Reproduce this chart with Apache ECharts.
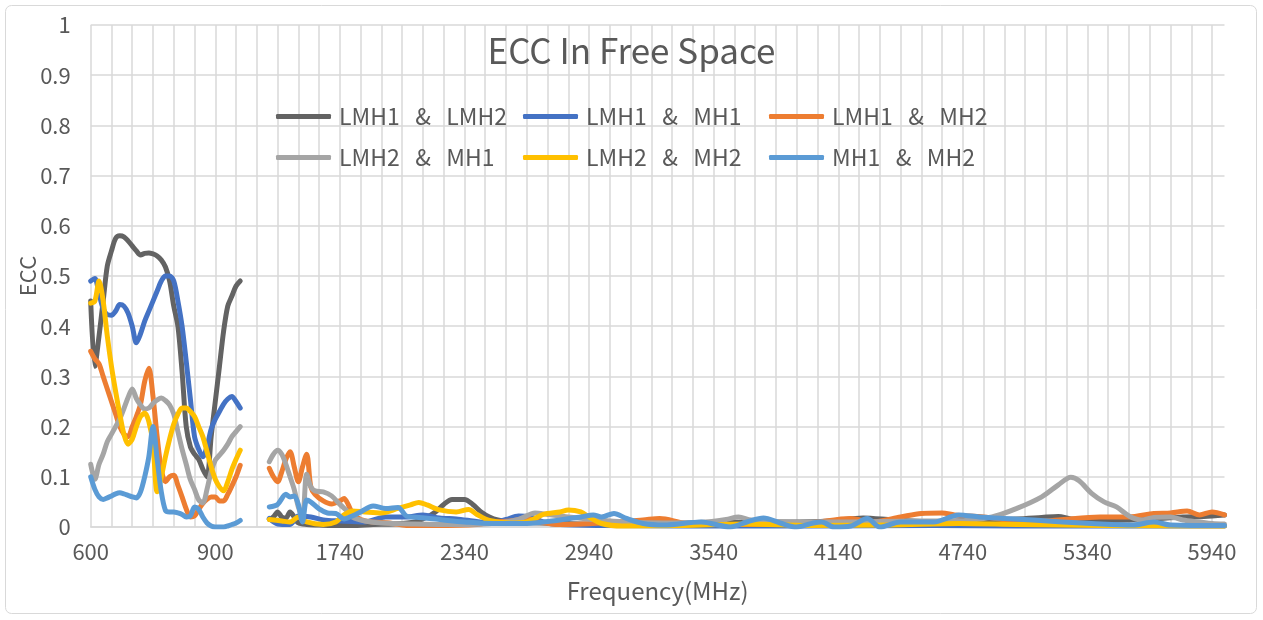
<!DOCTYPE html>
<html>
<head>
<meta charset="utf-8">
<title>ECC In Free Space</title>
<script src="https://cdn.jsdelivr.net/npm/echarts@6/dist/echarts.min.js"></script>
<style>
  html, body { margin: 0; padding: 0; background: #fff; }
  #chart { width: 1263px; height: 620px; }
</style>
</head>
<body>
<div id="chart"></div>
<script>
// frequency rows of the sheet: 600-960 step 10, then 1280-6000 step 20
const lowBand = [];
for (let f = 600; f <= 960; f += 10) lowBand.push(f);
const highBand = [];
for (let f = 1280; f <= 6000; f += 20) highBand.push(f);
const frequencies = lowBand.concat(highBand);

const seriesNames = ['LMH1   &   LMH2', 'LMH1   &   MH1', 'LMH1   &   MH2', 'LMH2   &   MH1', 'LMH2   &   MH2', 'MH1   &   MH2'];
const seriesColors = ['#636363', '#4472C4', '#ED7D31', '#A5A5A5', '#FFC000', '#5B9BD5'];

// low band values, one per lowBand frequency
const lowLmh1Lmh2 = [0.45, 0.32, 0.38, 0.45, 0.52, 0.55, 0.575, 0.58, 0.578, 0.57, 0.56, 0.55, 0.542, 0.545, 0.546, 0.544, 0.54, 0.532, 0.518, 0.49, 0.44, 0.40, 0.31, 0.20, 0.16, 0.145, 0.135, 0.115, 0.10, 0.18, 0.25, 0.32, 0.39, 0.44, 0.46, 0.48, 0.49];
const lowLmh1Mh1 = [0.49, 0.495, 0.465, 0.435, 0.423, 0.422, 0.43, 0.443, 0.44, 0.426, 0.40, 0.367, 0.385, 0.41, 0.43, 0.45, 0.47, 0.49, 0.50, 0.50, 0.49, 0.45, 0.40, 0.33, 0.255, 0.18, 0.155, 0.14, 0.16, 0.195, 0.215, 0.23, 0.245, 0.255, 0.26, 0.25, 0.237];
const lowLmh1Mh2 = [0.35, 0.335, 0.325, 0.30, 0.275, 0.25, 0.225, 0.20, 0.185, 0.18, 0.20, 0.22, 0.245, 0.29, 0.316, 0.26, 0.18, 0.115, 0.09, 0.10, 0.103, 0.083, 0.06, 0.036, 0.02, 0.022, 0.035, 0.047, 0.055, 0.06, 0.06, 0.052, 0.052, 0.065, 0.082, 0.10, 0.123];
const lowLmh2Mh1 = [0.125, 0.095, 0.125, 0.145, 0.17, 0.185, 0.20, 0.215, 0.236, 0.258, 0.275, 0.256, 0.243, 0.235, 0.237, 0.246, 0.253, 0.257, 0.252, 0.243, 0.225, 0.19, 0.155, 0.125, 0.094, 0.075, 0.054, 0.048, 0.075, 0.11, 0.133, 0.143, 0.153, 0.165, 0.18, 0.19, 0.20];
const lowLmh2Mh2 = [0.446, 0.45, 0.49, 0.45, 0.38, 0.32, 0.27, 0.225, 0.185, 0.165, 0.175, 0.20, 0.22, 0.227, 0.21, 0.165, 0.07, 0.10, 0.14, 0.175, 0.205, 0.225, 0.237, 0.237, 0.23, 0.22, 0.20, 0.18, 0.15, 0.12, 0.095, 0.08, 0.072, 0.09, 0.115, 0.135, 0.153];
const lowMh1Mh2 = [0.10, 0.075, 0.06, 0.055, 0.058, 0.062, 0.066, 0.068, 0.066, 0.063, 0.06, 0.058, 0.07, 0.10, 0.14, 0.20, 0.135, 0.07, 0.033, 0.03, 0.03, 0.028, 0.025, 0.02, 0.022, 0.04, 0.035, 0.02, 0.008, 0.002, 0.0, 0.0, 0.0, 0.002, 0.005, 0.008, 0.013];

// high band readings as [frequency, ECC]
const highLmh1Lmh2 = [[1400, 0.015], [1420, 0.02], [1440, 0.03], [1460, 0.02], [1480, 0.018], [1500, 0.03], [1520, 0.02], [1540, 0.008], [1580, 0.005], [1640, 0.004], [1700, 0.003], [1800, 0.003], [1900, 0.005], [2000, 0.006], [2100, 0.01], [2160, 0.02], [2200, 0.03], [2240, 0.045], [2280, 0.055], [2340, 0.055], [2380, 0.045], [2420, 0.03], [2460, 0.02], [2500, 0.014], [2560, 0.01], [2700, 0.008], [2900, 0.006], [3100, 0.005], [3300, 0.006], [3500, 0.008], [3700, 0.01], [3900, 0.01], [4100, 0.012], [4260, 0.018], [4400, 0.014], [4600, 0.01], [4800, 0.014], [5000, 0.016], [5120, 0.019], [5200, 0.021], [5260, 0.016], [5400, 0.013], [5600, 0.015], [5800, 0.02], [5900, 0.021], [6000, 0.024]];
const highLmh1Mh1 = [[1400, 0.017], [1440, 0.006], [1500, 0.005], [1540, 0.022], [1600, 0.02], [1660, 0.014], [1740, 0.012], [1860, 0.01], [1960, 0.02], [2060, 0.02], [2140, 0.024], [2220, 0.018], [2300, 0.016], [2380, 0.012], [2460, 0.008], [2540, 0.015], [2600, 0.022], [2660, 0.02], [2720, 0.01], [2800, 0.005], [3000, 0.003], [3400, 0.002], [4000, 0.002], [4600, 0.003], [5000, 0.002], [5600, 0.002], [6000, 0.002]];
const highLmh1Mh2 = [[1400, 0.117], [1420, 0.10], [1440, 0.09], [1460, 0.11], [1480, 0.135], [1500, 0.15], [1520, 0.12], [1540, 0.09], [1560, 0.12], [1580, 0.145], [1600, 0.08], [1620, 0.065], [1660, 0.052], [1700, 0.046], [1740, 0.052], [1760, 0.057], [1780, 0.045], [1800, 0.028], [1840, 0.015], [1900, 0.01], [1980, 0.008], [2060, 0.003], [2200, 0.003], [2400, 0.005], [2480, 0.01], [2560, 0.012], [2640, 0.017], [2700, 0.01], [2800, 0.005], [3000, 0.008], [3200, 0.014], [3280, 0.017], [3400, 0.008], [3600, 0.005], [3800, 0.005], [4000, 0.008], [4200, 0.017], [4300, 0.01], [4440, 0.02], [4540, 0.027], [4640, 0.028], [4700, 0.024], [4840, 0.02], [5040, 0.01], [5200, 0.014], [5400, 0.02], [5540, 0.02], [5660, 0.027], [5740, 0.028], [5820, 0.032], [5880, 0.024], [5940, 0.03], [6000, 0.024]];
const highLmh2Mh1 = [[1400, 0.13], [1420, 0.145], [1440, 0.153], [1460, 0.145], [1480, 0.125], [1500, 0.10], [1520, 0.075], [1540, 0.04], [1560, 0.02], [1580, 0.105], [1600, 0.08], [1620, 0.072], [1660, 0.07], [1700, 0.062], [1740, 0.045], [1780, 0.03], [1800, 0.02], [1860, 0.012], [1940, 0.008], [2100, 0.006], [2300, 0.005], [2500, 0.008], [2600, 0.015], [2680, 0.028], [2740, 0.025], [2840, 0.02], [2960, 0.015], [3100, 0.01], [3300, 0.008], [3500, 0.01], [3600, 0.015], [3660, 0.02], [3720, 0.014], [3900, 0.01], [4200, 0.01], [4500, 0.012], [4700, 0.012], [4880, 0.02], [5000, 0.037], [5120, 0.06], [5200, 0.084], [5260, 0.099], [5300, 0.092], [5360, 0.067], [5420, 0.05], [5480, 0.04], [5540, 0.022], [5600, 0.014], [5660, 0.019], [5740, 0.02], [5800, 0.014], [5880, 0.01], [5940, 0.007], [6000, 0.006]];
const highLmh2Mh2 = [[1400, 0.015], [1460, 0.012], [1500, 0.01], [1540, 0.02], [1580, 0.01], [1660, 0.005], [1720, 0.01], [1760, 0.024], [1800, 0.032], [1860, 0.03], [1940, 0.028], [2020, 0.037], [2080, 0.044], [2120, 0.049], [2160, 0.044], [2220, 0.034], [2300, 0.03], [2360, 0.035], [2400, 0.025], [2460, 0.013], [2560, 0.008], [2640, 0.01], [2720, 0.025], [2800, 0.03], [2840, 0.034], [2900, 0.03], [2940, 0.02], [3000, 0.007], [3100, 0.002], [3400, 0.003], [3700, 0.006], [4000, 0.003], [4400, 0.004], [4720, 0.007], [5000, 0.005], [5400, 0.003], [6000, 0.002]];
const highMh1Mh2 = [[1400, 0.04], [1440, 0.045], [1480, 0.065], [1500, 0.06], [1520, 0.062], [1540, 0.045], [1560, 0.01], [1580, 0.054], [1600, 0.05], [1640, 0.036], [1680, 0.028], [1720, 0.027], [1760, 0.016], [1800, 0.022], [1840, 0.03], [1900, 0.042], [1960, 0.037], [2020, 0.039], [2060, 0.022], [2120, 0.019], [2200, 0.016], [2260, 0.013], [2340, 0.01], [2480, 0.007], [2640, 0.007], [2800, 0.014], [2900, 0.02], [2960, 0.024], [3000, 0.02], [3060, 0.027], [3120, 0.017], [3200, 0.007], [3300, 0.004], [3480, 0.01], [3620, 0.0], [3700, 0.01], [3780, 0.018], [3860, 0.008], [3940, 0.0], [4020, 0.008], [4060, 0.01], [4120, 0.0], [4200, 0.002], [4280, 0.017], [4340, 0.0], [4440, 0.01], [4600, 0.01], [4720, 0.024], [4820, 0.02], [4940, 0.017], [5080, 0.014], [5220, 0.01], [5360, 0.007], [5560, 0.004], [5660, 0.01], [5740, 0.004], [6000, 0.003]];

const lowSets = [lowLmh1Lmh2, lowLmh1Mh1, lowLmh1Mh2, lowLmh2Mh1, lowLmh2Mh2, lowMh1Mh2];
const highSets = [highLmh1Lmh2, highLmh1Mh1, highLmh1Mh2, highLmh2Mh1, highLmh2Mh2, highMh1Mh2];

const TXT = '#595959';
const FONT = '"Noto Sans CJK SC", "Noto Sans", sans-serif';

function buildData(low, high) {
  const out = low.map((v, i) => [i, v]);
  out.push([frequencies.indexOf(1280), '-']); // no rows between the two bands
  high.forEach(([f, v]) => {
    const idx = frequencies.indexOf(f);
    if (idx >= 0) out.push([idx, v]);
  });
  return out;
}

const chart = echarts.init(document.getElementById('chart'));

const legendPos = [[271, 100], [518, 100], [764, 100], [271, 141], [518, 141], [764, 141]];

const option = {
  animation: false,
  backgroundColor: '#fff',
  title: {
    text: 'ECC In Free Space',
    left: 'center',
    top: 28,
    textStyle: { color: TXT, fontFamily: FONT, fontWeight: 'normal', fontSize: 35 }
  },
  graphic: [{
    type: 'rect',
    shape: { x: 5.5, y: 5.5, width: 1251, height: 608, r: 6 },
    style: { fill: 'none', stroke: '#d9d9d9', lineWidth: 1 },
    silent: true
  }],
  legend: seriesNames.map((name, i) => ({
    data: [name],
    left: legendPos[i][0],
    top: legendPos[i][1],
    icon: 'roundRect',
    itemWidth: 55,
    itemHeight: 5,
    itemGap: 10,
    textStyle: { color: TXT, fontFamily: FONT, fontSize: 23, padding: [0, 0, 0, 3] }
  })),
  grid: { left: 90.7, right: 38.5, top: 25, bottom: 93 },
  xAxis: {
    type: 'category',
    data: frequencies.map(String),
    boundaryGap: false,
    name: 'Frequency(MHz)',
    nameLocation: 'middle',
    nameGap: 52,
    nameMoveOverlap: false,
    nameTextStyle: { color: TXT, fontFamily: FONT, fontSize: 24 },
    axisLine: { lineStyle: { color: '#d9d9d9', width: 1.5 } },
    axisTick: { show: false },
    axisLabel: { interval: 29, color: TXT, fontFamily: FONT, fontSize: 22, margin: 14 },
    splitLine: { show: true, interval: 4, lineStyle: { color: '#d9d9d9', width: 1.5 } }
  },
  yAxis: {
    type: 'value',
    min: 0,
    max: 1,
    interval: 0.1,
    name: 'ECC',
    nameLocation: 'middle',
    nameGap: 52,
    nameMoveOverlap: false,
    nameTextStyle: { color: TXT, fontFamily: FONT, fontSize: 22 },
    axisLine: { show: false },
    axisTick: { show: false },
    axisLabel: { color: TXT, fontFamily: FONT, fontSize: 22, margin: 20 },
    splitLine: { lineStyle: { color: '#d9d9d9', width: 1.5 } }
  },
  series: seriesNames.map((name, i) => ({
    name: name,
    type: 'line',
    data: buildData(lowSets[i], highSets[i]),
    smooth: 0.3,
    showSymbol: false,
    symbol: 'none',
    connectNulls: false,
    color: seriesColors[i],
    lineStyle: { width: 5, color: seriesColors[i], cap: 'round', join: 'round' }
  }))
};

chart.setOption(option);
window.addEventListener('resize', () => chart.resize());
</script>
</body>
</html>
